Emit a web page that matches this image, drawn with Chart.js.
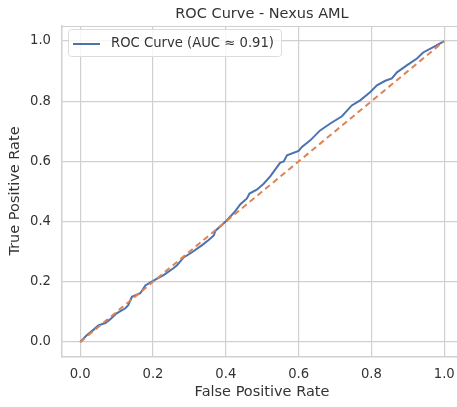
<!DOCTYPE html>
<html>
<head>
<meta charset="utf-8">
<script src="https://cdn.jsdelivr.net/npm/chart.js@4.4.1/dist/chart.umd.min.js"></script>
<style>
  html, body { margin: 0; padding: 0; background: #ffffff; }
  #wrap { width: 457px; height: 407px; }
</style>
</head>
<body>
<div id="wrap"><canvas id="myChart" width="457" height="407"></canvas></div>
<script>
// 데이터
const fpr = [0, 0.018, 0.037, 0.05, 0.069, 0.082, 0.1, 0.124, 0.132, 0.142, 0.165, 0.179, 0.2,
  0.229, 0.256, 0.266, 0.284, 0.302, 0.334, 0.352, 0.367, 0.371, 0.401, 0.426, 0.44, 0.458,
  0.465, 0.485, 0.504, 0.522, 0.549, 0.559, 0.568, 0.6, 0.609, 0.632, 0.659, 0.687, 0.719,
  0.746, 0.769, 0.797, 0.815, 0.838, 0.856, 0.87, 0.897, 0.925, 0.942, 0.97, 1];
const tpr = [0, 0.022, 0.041, 0.055, 0.063, 0.075, 0.095, 0.112, 0.122, 0.15, 0.162, 0.188, 0.203,
  0.222, 0.245, 0.255, 0.281, 0.294, 0.321, 0.338, 0.354, 0.369, 0.402, 0.435, 0.458, 0.477,
  0.493, 0.506, 0.526, 0.55, 0.595, 0.6, 0.62, 0.635, 0.648, 0.67, 0.703, 0.726, 0.75,
  0.786, 0.803, 0.831, 0.853, 0.868, 0.876, 0.896, 0.919, 0.942, 0.962, 0.98, 1];
const diagX = [0, 1];
const diagY = [0, 1];
const tickValues = [0, 0.2, 0.4, 0.6, 0.8, 1.0];

const titleText = 'ROC Curve - Nexus AML';
const xLabel = 'False Positive Rate';
const yLabel = 'True Positive Rate';
const legendLabel = 'ROC Curve (AUC \u2248 0.91)';

const FONT = '"DejaVu Sans", sans-serif';
const TEXT = '#333333';
const GRID = '#d0d0d0';
const BLUE = '#4c72b0';
const ORANGE = '#dd8452';

// 제목, 축 이름, 범례, 위쪽 테두리를 그리는 plugin
const decor = {
    id: 'decor',
    afterDraw(chart) {
        const ctx = chart.ctx;
        const a = chart.chartArea;
        ctx.save();
        // top spine
        ctx.strokeStyle = GRID;
        ctx.lineWidth = 1.2;
        ctx.beginPath();
        ctx.moveTo(a.left, a.top + 0.5);
        ctx.lineTo(a.right, a.top + 0.5);
        ctx.stroke();

        ctx.fillStyle = TEXT;
        ctx.textAlign = 'center';
        ctx.textBaseline = 'middle';
        ctx.font = '14.5px ' + FONT;
        ctx.fillText(titleText, 262, 14);
        ctx.fillText(xLabel, 262, 392);
        ctx.save();
        ctx.translate(15, 191);
        ctx.rotate(-Math.PI / 2);
        ctx.fillText(yLabel, 0, 0);
        ctx.restore();

        // legend
        const bx = 68.5, by = 29.5, bw = 213, bh = 27, r = 3;
        ctx.beginPath();
        ctx.moveTo(bx + r, by);
        ctx.lineTo(bx + bw - r, by);
        ctx.quadraticCurveTo(bx + bw, by, bx + bw, by + r);
        ctx.lineTo(bx + bw, by + bh - r);
        ctx.quadraticCurveTo(bx + bw, by + bh, bx + bw - r, by + bh);
        ctx.lineTo(bx + r, by + bh);
        ctx.quadraticCurveTo(bx, by + bh, bx, by + bh - r);
        ctx.lineTo(bx, by + r);
        ctx.quadraticCurveTo(bx, by, bx + r, by);
        ctx.closePath();
        ctx.fillStyle = 'rgba(255,255,255,0.8)';
        ctx.fill();
        ctx.strokeStyle = '#dcdcdc';
        ctx.lineWidth = 1;
        ctx.stroke();

        ctx.strokeStyle = BLUE;
        ctx.lineWidth = 2;
        ctx.beginPath();
        ctx.moveTo(73, 44);
        ctx.lineTo(100, 44);
        ctx.stroke();

        ctx.fillStyle = TEXT;
        ctx.textAlign = 'left';
        ctx.font = '13.2px ' + FONT;
        ctx.fillText(legendLabel, 111, 44);
        ctx.restore();
    }
};

const ctx = document.getElementById('myChart');
const config = {
    type: 'scatter',
    data: {
        datasets: [{
            label: 'Random',
            data: diagX.map((x, i) => ({ x: x, y: diagY[i] })),
            showLine: true,
            borderColor: ORANGE,
            borderWidth: 2,
            borderDash: [6, 4],
            pointRadius: 0,
            order: 0
        }, {
            label: legendLabel,
            data: fpr.map((x, i) => ({ x: x, y: tpr[i] })),
            showLine: true,
            borderColor: BLUE,
            borderWidth: 2,
            pointRadius: 0,
            tension: 0,
            order: 1
        }]
    },
    options: {
        responsive: false,
        animation: false,
        layout: { padding: { top: 26, right: 0, left: 0, bottom: 0 } },
        plugins: {
            legend: { display: false },
            title: { display: false },
            tooltip: { enabled: false }
        },
        scales: {
            x: {
                type: 'linear',
                min: -0.05,
                max: 1.035,
                afterBuildTicks: (s) => { s.ticks = tickValues.map(v => ({ value: v })); },
                afterFit: (s) => { s.height = 50; s.paddingLeft = 0; s.paddingRight = 0; },
                grid: { color: GRID, lineWidth: 1.2, drawTicks: false },
                border: { color: GRID, width: 1.5 },
                ticks: {
                    color: TEXT,
                    font: { family: FONT, size: 13.2 },
                    padding: 10,
                    maxRotation: 0,
                    callback: (v) => v.toFixed(1)
                }
            },
            y: {
                type: 'linear',
                min: -0.05,
                max: 1.05,
                afterBuildTicks: (s) => { s.ticks = tickValues.map(v => ({ value: v })); },
                afterFit: (s) => { s.width = 62; s.paddingTop = 0; s.paddingBottom = 0; },
                grid: { color: GRID, lineWidth: 1.2, drawTicks: false },
                border: { color: GRID, width: 1.5 },
                ticks: {
                    color: TEXT,
                    font: { family: FONT, size: 13.2 },
                    padding: 11,
                    callback: (v) => v.toFixed(1)
                }
            }
        }
    },
    plugins: [decor]
};

const myChart = new Chart(ctx, config);
</script>
</body>
</html>
